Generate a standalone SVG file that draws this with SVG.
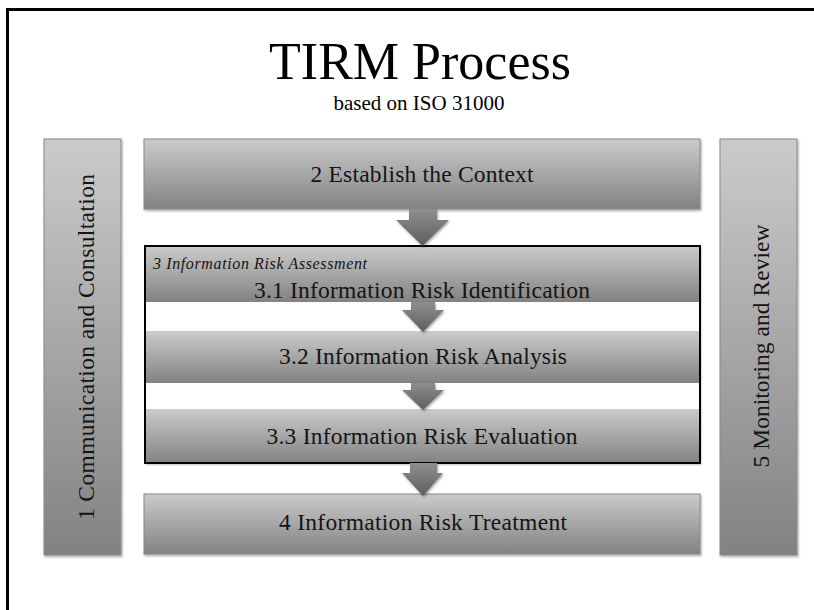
<svg xmlns="http://www.w3.org/2000/svg" width="814" height="610" viewBox="0 0 814 610">
  <defs>
    <linearGradient id="gBox" x1="0" y1="0" x2="0" y2="1">
      <stop offset="0" stop-color="#cbcbcb"/>
      <stop offset="1" stop-color="#828282"/>
    </linearGradient>
    <linearGradient id="gArrow" x1="0" y1="0" x2="0" y2="1">
      <stop offset="0" stop-color="#8e8e8e"/>
      <stop offset="1" stop-color="#5e5e5e"/>
    </linearGradient>
    <filter id="shadow" x="-5%" y="-5%" width="110%" height="115%">
      <feDropShadow dx="1" dy="1.5" stdDeviation="1" flood-color="#000" flood-opacity="0.35"/>
    </filter>
  </defs>
  <style>
    .box { fill: url(#gBox); stroke: #8a8a8a; stroke-width: 1; filter: url(#shadow); }
    .arrow { fill: url(#gArrow); filter: url(#shadow); }
    .lbl { font-family: "Liberation Serif", "Times New Roman", serif; font-size: 23.5px; fill: #141414; text-anchor: middle; }
    .title { font-family: "Liberation Serif", "Times New Roman", serif; fill: #000; text-anchor: middle; }
  </style>

  <rect width="814" height="610" fill="#ffffff"/>
  <!-- page frame (left and top edges) -->
  <path d="M7.5 610 V9.5 H814" fill="none" stroke="#000" stroke-width="3"/>

  <g id="title">
    <text class="title" x="420" y="79" font-size="52">TIRM Process</text>
    <text class="title" x="419" y="110" font-size="21">based on ISO 31000</text>
  </g>

  <g id="n1-communication">
    <rect class="box" x="44" y="139" width="77" height="416"/>
    <text class="lbl" transform="translate(94,347) rotate(-90)" textLength="346">1 Communication and Consultation</text>
  </g>

  <g id="n5-monitoring">
    <rect class="box" x="720" y="139" width="77" height="416"/>
    <text class="lbl" transform="translate(769,346) rotate(-90)" textLength="243">5 Monitoring and Review</text>
  </g>

  <g id="n2-context">
    <rect class="box" x="144" y="139" width="556" height="70"/>
    <text class="lbl" x="422" y="182" textLength="223">2 Establish the Context</text>
  </g>

  <g id="n3-assessment">
    <rect x="145" y="246" width="555" height="217" fill="#fff" stroke="none" filter="url(#shadow)"/>
    <g id="n3-1-identification">
      <rect x="145" y="246" width="555" height="56" fill="url(#gBox)"/>
      <text x="153" y="269" font-family="Liberation Serif, serif" font-style="italic" font-size="16" fill="#141414" textLength="214">3 Information Risk Assessment</text>
      <text class="lbl" x="422" y="298" textLength="336">3.1 Information Risk Identification</text>
    </g>
    <g id="n3-2-analysis">
      <rect x="145" y="331" width="555" height="52" fill="url(#gBox)"/>
      <text class="lbl" x="423" y="364" textLength="288">3.2 Information Risk Analysis</text>
    </g>
    <g id="n3-3-evaluation">
      <rect x="145" y="409" width="555" height="54" fill="url(#gBox)"/>
      <text class="lbl" x="422" y="444" textLength="311">3.3 Information Risk Evaluation</text>
    </g>
    <rect x="145" y="246" width="555" height="217" fill="none" stroke="#000" stroke-width="2"/>
  </g>

  <g id="n4-treatment">
    <rect class="box" x="144" y="494" width="556" height="60"/>
    <text class="lbl" x="423" y="530" textLength="288">4 Information Risk Treatment</text>
  </g>

  <g id="connectors">
    <path class="arrow" d="M409 209 H437 V220 H449 L422.5 246 L396 220 H409 Z"/>
    <path class="arrow" d="M411 302 H435 V310 H444 L423 332 L402 310 H411 Z"/>
    <path class="arrow" d="M411 383 H435 V390 H444 L423 410 L402 390 H411 Z"/>
    <path class="arrow" d="M410 463 H437 V473 H443 L423 496 L402 473 H410 Z"/>
  </g>
</svg>
